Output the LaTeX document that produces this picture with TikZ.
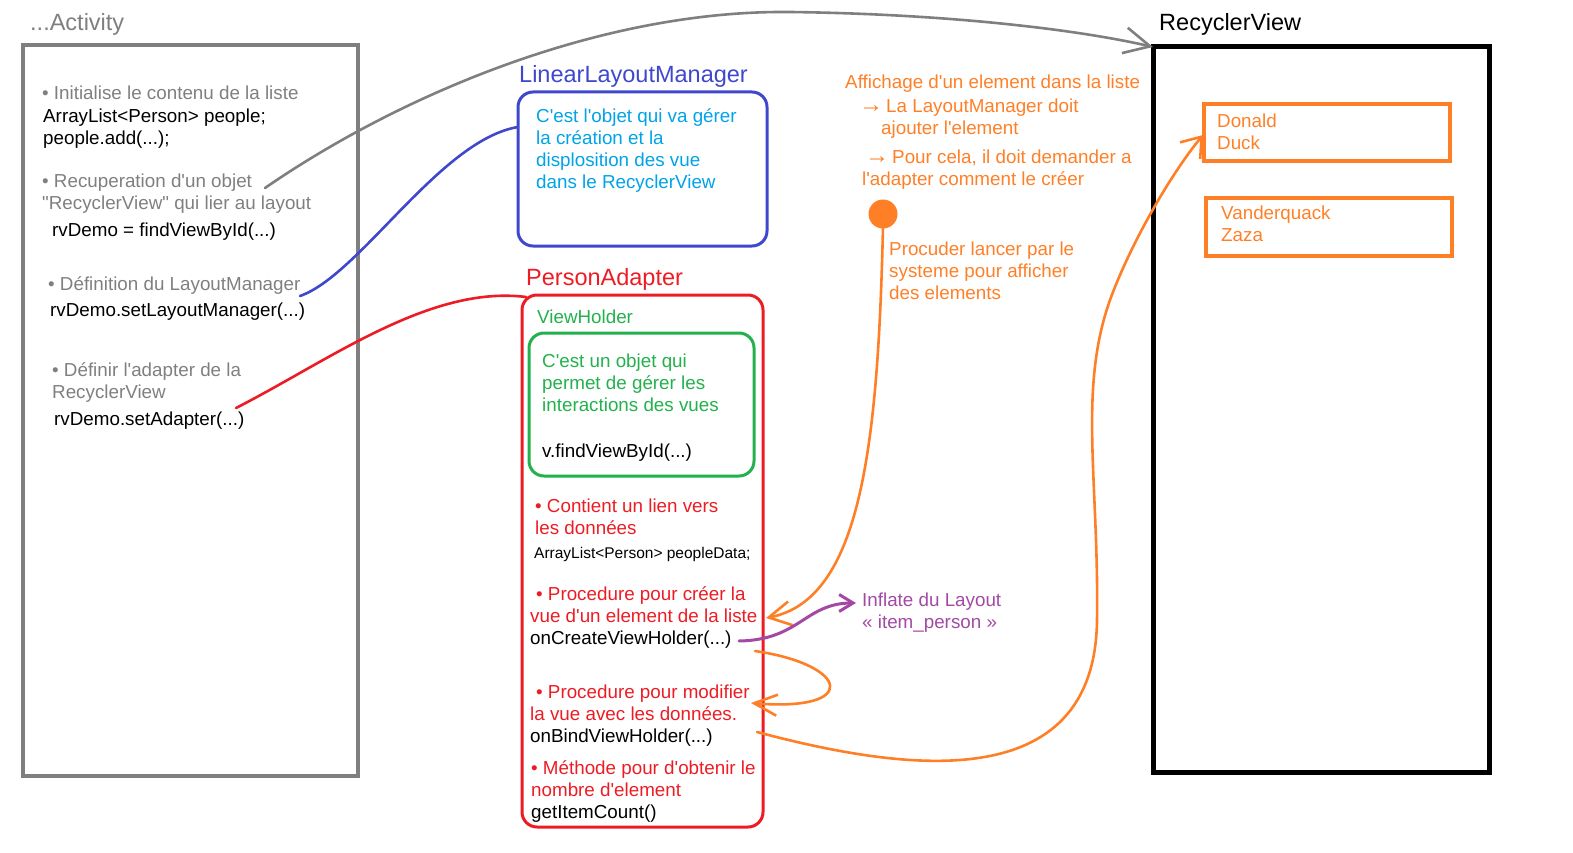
\documentclass[tikz,border=0pt]{standalone}
\usepackage{fontspec}
\setmainfont{Liberation Sans}
\usetikzlibrary{arrows.meta}
\definecolor{cgray}{HTML}{7F7F7F}
\definecolor{cblue}{HTML}{3F48CC}
\definecolor{clight}{HTML}{00A2E8}
\definecolor{cred}{HTML}{ED1C24}
\definecolor{cgreen}{HTML}{22B14C}
\definecolor{corange}{HTML}{FF7F27}
\definecolor{cpurple}{HTML}{A349A4}
% left-aligned lines whose reference point is the first baseline
\newcommand\stack[1]{\vtop{\halign{##\hfil\cr#1\crcr}}}
\newcommand\ap{\textquotesingle}
\newcommand\qt{\textquotedbl}
\newcommand\rarr{{\fontsize{24}{22}\selectfont →}\hskip3pt}
\begin{document}
\begin{tikzpicture}[x=1pt,y=-1pt,
  txt/.style={anchor=base west, inner sep=0pt, font=\fontsize{18.8}{22}\selectfont},
  small/.style={anchor=base west, inner sep=0pt, font=\fontsize{15.5}{19}\selectfont},
  ttl/.style={anchor=base west, inner sep=0pt, font=\fontsize{23.5}{28}\selectfont},
  frame/.style={draw, anchor=north west, inner sep=0pt, outer sep=0pt},
  link/.style={line width=2.6pt, line cap=round, line join=round},
]
\useasboundingbox (0,0) rectangle (1573,853);

% ---- Activity ----
\node[ttl, text=cgray] (tact) at (30,31) {...Activity};
\node[frame, draw=cgray, line width=4.5pt, minimum width=335pt, minimum height=731pt] (act) at (23,45) {};
\node[txt, text=cgray] (a1) at (42,100) {• Initialise le contenu de la liste};
\node[txt] (a2) at (43,123) {\stack{ArrayList<Person> people;\cr people.add(...);}};
\node[txt, text=cgray] (a3) at (42,187) {\stack{• Recuperation d\ap un objet\cr \qt RecyclerView\qt\ qui lier au layout}};
\node[txt] (a4) at (52,236) {rvDemo = findViewById(...)};
\node[txt, text=cgray] (a5) at (48,290) {• Définition du LayoutManager};
\node[txt] (a6) at (50,316) {rvDemo.setLayoutManager(...)};
\node[txt, text=cgray] (a7) at (52,376) {\stack{• Définir l\ap adapter de la\cr RecyclerView}};
\node[txt] (a8) at (54,425) {rvDemo.setAdapter(...)};

% ---- LinearLayoutManager ----
\node[ttl, text=cblue] (tllm) at (519,83) {LinearLayoutManager};
\node[frame, draw=cblue, line width=3pt, rounded corners=15pt, minimum width=249pt, minimum height=154pt] (llm) at (518,92) {};
\node[txt, text=clight] (llmt) at (536,123) {\stack{C\ap est l\ap objet qui va gérer\cr la création et la\cr displosition des vue\cr dans le RecyclerView}};

% ---- PersonAdapter ----
\node[ttl, text=cred] (tpa) at (526,285) {PersonAdapter};
\node[frame, draw=cred, line width=3pt, rounded corners=15pt, minimum width=241pt, minimum height=532pt] (pa) at (522,295) {};
\node[txt, text=cgreen] (tvh) at (537,323) {ViewHolder};
\node[frame, draw=cgreen, line width=3pt, rounded corners=15pt, minimum width=225pt, minimum height=143pt] (vh) at (529,333) {};
\node[txt, text=cgreen] (vht) at (542,367.5) {\stack{C\ap est un objet qui\cr permet de gérer les\cr interactions des vues}};
\node[txt] (vhc) at (542,457.5) {v.findViewById(...)};
\node[txt, text=cred] (p1) at (535,512) {\stack{• Contient un lien vers\cr les données}};
\node[small] (p2) at (534,558) {ArrayList<Person> peopleData;};
\node[txt, text=cred] (p3) at (530,600) {\stack{\hskip6pt • Procedure pour créer la\cr vue d\ap un element de la liste\cr \textcolor{black}{onCreateViewHolder(...)}}};
\node[txt, text=cred] (p4) at (530,698) {\stack{\hskip6pt • Procedure pour modifier\cr la vue avec les données.\cr \textcolor{black}{onBindViewHolder(...)}}};
\node[txt, text=cred] (p5) at (531,774.6) {\stack{• Méthode pour d\ap obtenir le\cr nombre d\ap element\cr \textcolor{black}{getItemCount()}}};

% ---- notes ----
\node[txt, text=corange] (o1) at (845,89) {Affichage d\ap un element dans la liste};
\node[txt, text=corange] (o2) at (859,113) {\stack{\rarr La LayoutManager doit\cr \hskip22pt ajouter l\ap element}};
\node[txt, text=corange] (o3) at (862,164) {\stack{\hskip3pt \rarr Pour cela, il doit demander a\cr l\ap adapter comment le créer}};
\node[circle, fill=corange, minimum size=29pt, inner sep=0pt] (dot) at (883,214) {};
\node[txt, text=corange] (o4) at (889,255) {\stack{Procuder lancer par le\cr systeme pour afficher\cr des elements}};
\node[txt, text=cpurple] (inf) at (862,606) {\stack{Inflate du Layout\cr « item\_person »}};

% ---- RecyclerView ----
\node[ttl] (trv) at (1159,31) {RecyclerView};
\node[frame, draw=black, line width=5pt, minimum width=336pt, minimum height=725pt] (rv) at (1153,47) {};
\node[frame, draw=corange, line width=3.5pt, minimum width=246pt, minimum height=57pt] (it1) at (1204,104) {};
\node[txt, text=corange] (it1t) at (1217,128) {\stack{Donald\cr Duck}};
\node[frame, draw=corange, line width=3.5pt, minimum width=246pt, minimum height=58pt] (it2) at (1206,198) {};
\node[txt, text=corange] (it2t) at (1221,219) {\stack{Vanderquack\cr Zaza}};

% ---- connectors ----
\coordinate (g0) at (265,188);
\coordinate (b0) at (300,296);
\coordinate (b1) at (518,127);
\coordinate (r0) at (236,408);
\coordinate (r1) at (526,297);
\coordinate (c0) at (883,226);
\coordinate (c1) at (766,618);
\coordinate (q0) at (739,641);
\coordinate (q1) at (856,603);
\coordinate (l0) at (755,651);
\coordinate (l1) at (751,703);
\coordinate (m0) at (757,732);
\coordinate (m1) at (1203,135);

% findViewById -> RecyclerView
\draw[link, cgray, -{Straight Barb[length=26pt,width=26pt]}]
  (g0) .. controls (400,95) and (600,10) .. (790,12)
       .. controls (950,14) and (1080,30) .. (rv.north west);
% setLayoutManager -> LinearLayoutManager
\draw[link, cblue] (b0) .. controls (360,275) and (440,140) .. (b1);
% setAdapter -> PersonAdapter
\draw[link, cred] (r0) .. controls (330,360) and (430,285) .. (r1);
% system call -> onCreateViewHolder
\draw[link, corange, -{Straight Barb[length=22pt,width=24pt]}]
  (c0) .. controls (878,450) and (860,600) .. (c1);
% inflate
\draw[link, cpurple, line width=3pt, -{Straight Barb[length=14pt,width=17pt]}]
  (q0) .. controls (800,640) and (805,603) .. (q1);
% create -> bind
\draw[link, corange, -{Straight Barb[length=23pt,width=21pt]}]
  (l0) .. controls (850,665) and (860,712) .. (l1);
% bind -> displayed item
\draw[link, corange, -{Straight Barb[length=18pt,width=26pt]}]
  (m0) .. controls (900,770) and (1095,800) .. (1097,620)
       .. controls (1099,480) and (1078,390) .. (1110,300)
       .. controls (1130,245) and (1170,175) .. (m1);
\end{tikzpicture}
\end{document}
